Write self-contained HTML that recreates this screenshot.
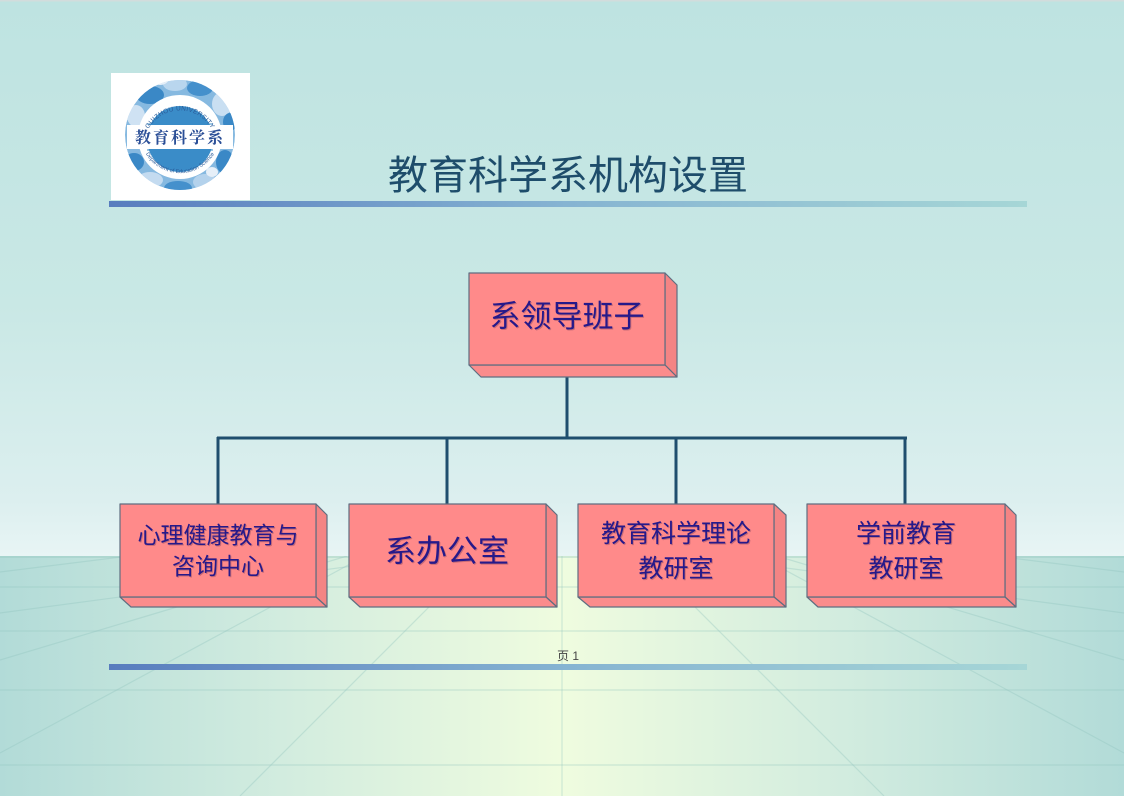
<!DOCTYPE html>
<html><head><meta charset="utf-8">
<style>
html,body{margin:0;padding:0;}
body{width:1124px;height:796px;overflow:hidden;position:relative;font-family:"Liberation Sans","Noto Sans CJK SC",sans-serif;}
svg{position:absolute;left:0;top:0;}
</style></head>
<body>
<svg width="1124" height="796" viewBox="0 0 1124 796" xmlns="http://www.w3.org/2000/svg">
<defs>
  <linearGradient id="sky" x1="0" y1="0" x2="0" y2="1">
    <stop offset="0" stop-color="#bee3e1"/>
    <stop offset="0.55" stop-color="#c9e8e5"/>
    <stop offset="0.9" stop-color="#dcefef"/>
    <stop offset="1" stop-color="#e8f5f5"/>
  </linearGradient>
  <linearGradient id="floor" x1="0" y1="0" x2="1" y2="0">
    <stop offset="0" stop-color="#b2dbd8"/>
    <stop offset="0.25" stop-color="#d2ecdf"/>
    <stop offset="0.5" stop-color="#effcdf"/>
    <stop offset="0.75" stop-color="#d2ecdf"/>
    <stop offset="1" stop-color="#b2dbd8"/>
  </linearGradient>
  <linearGradient id="bar" x1="0" y1="0" x2="1" y2="0">
    <stop offset="0" stop-color="#587cbe"/>
    <stop offset="0.5" stop-color="#86b4d2"/>
    <stop offset="1" stop-color="#a6d6d6"/>
  </linearGradient>
  <clipPath id="floorclip"><rect x="0" y="556" width="1124" height="240"/></clipPath>
  <clipPath id="ringclip"><circle cx="180" cy="135" r="55"/></clipPath>
  <path id="toparc" d="M 145 138 A 36 36 0 0 1 215 138"/>
  <path id="botarc" d="M 141 142 A 40 40 0 0 0 219 142"/>
</defs>

<!-- background -->
<rect x="0" y="0" width="1124" height="556" fill="url(#sky)"/>
<rect x="0" y="556" width="1124" height="240" fill="url(#floor)"/>
<rect x="0" y="0" width="1124" height="1.5" fill="#d2dcdc"/>

<!-- floor grid -->
<g clip-path="url(#floorclip)" stroke="#8fc4bc" stroke-opacity="0.35" stroke-width="1.2" fill="none">
  <line x1="0" y1="557" x2="1124" y2="557" stroke-opacity="0.55"/>
  <line x1="0" y1="587" x2="1124" y2="587"/>
  <line x1="0" y1="631" x2="1124" y2="631"/>
  <line x1="0" y1="690" x2="1124" y2="690"/>
  <line x1="0" y1="765" x2="1124" y2="765"/>
  <line x1="562" y1="556" x2="562" y2="796"/>
  <line x1="0" y1="572" x2="129" y2="556"/>
  <line x1="0" y1="613" x2="428" y2="556"/>
  <line x1="0" y1="660" x2="347" y2="556"/>
  <line x1="0" y1="753" x2="365" y2="556"/>
  <line x1="240" y1="796" x2="480" y2="556"/>
  <line x1="1124" y1="572" x2="995" y2="556"/>
  <line x1="1124" y1="613" x2="696" y2="556"/>
  <line x1="1124" y1="660" x2="777" y2="556"/>
  <line x1="1124" y1="753" x2="759" y2="556"/>
  <line x1="884" y1="796" x2="644" y2="556"/>
</g>

<!-- logo -->
<rect x="111" y="73" width="139" height="127" fill="#ffffff"/>
<g clip-path="url(#ringclip)">
  <circle cx="180" cy="135" r="55" fill="#86b9e0"/>
  <ellipse cx="150" cy="95" rx="14" ry="9" fill="#3a88c6"/>
  <ellipse cx="175" cy="84" rx="12" ry="7" fill="#b9d6ee"/>
  <ellipse cx="200" cy="88" rx="13" ry="8" fill="#4590cc"/>
  <ellipse cx="222" cy="104" rx="10" ry="12" fill="#c9dff2"/>
  <ellipse cx="136" cy="116" rx="9" ry="11" fill="#cfe2f3"/>
  <ellipse cx="230" cy="122" rx="7" ry="9" fill="#3a88c6"/>
  <ellipse cx="134" cy="162" rx="10" ry="9" fill="#3a88c6"/>
  <ellipse cx="150" cy="180" rx="13" ry="8" fill="#c4dbf0"/>
  <ellipse cx="178" cy="188" rx="14" ry="7" fill="#4590cc"/>
  <ellipse cx="205" cy="182" rx="12" ry="8" fill="#b4d2ec"/>
  <ellipse cx="225" cy="162" rx="9" ry="12" fill="#3a88c6"/>
  <ellipse cx="160" cy="80" rx="8" ry="5" fill="#e6eff8"/>
  <ellipse cx="212" cy="172" rx="6" ry="5" fill="#e6eff8"/>
</g>
<circle cx="180" cy="137" r="42" fill="#ffffff"/>
<circle cx="180" cy="139" r="33" fill="#3a8cc8"/>
<rect x="127" y="125" width="106" height="24" fill="#ffffff"/>
<line x1="147" y1="124" x2="213" y2="124" stroke="#3a8cc8" stroke-width="1"/>
<line x1="147" y1="150" x2="213" y2="150" stroke="#3a8cc8" stroke-width="1"/>
<text font-family="'Liberation Sans',sans-serif" font-size="6.5" fill="#2a5c9a" letter-spacing="0.3"><textPath href="#toparc" startOffset="50%" text-anchor="middle">GUIZHOU UNIVERSITY</textPath></text>
<text font-family="'Liberation Sans',sans-serif" font-size="5.5" fill="#2a5c9a"><textPath href="#botarc" startOffset="50%" text-anchor="middle">Department of Education Science</textPath></text>
<text x="180" y="143" text-anchor="middle" font-family="'Liberation Serif','Noto Serif CJK SC',serif" font-weight="bold" font-size="16" fill="#2a4e96" letter-spacing="2">教育科学系</text>

<!-- title -->
<text x="568" y="189" text-anchor="middle" font-family="'Liberation Sans','Noto Sans CJK SC',sans-serif" font-size="40" fill="#1e4d6b">教育科学系机构设置</text>
<rect x="109" y="201" width="918" height="6" fill="url(#bar)"/>

<!-- connectors -->
<g stroke="#1f4e6e" stroke-width="3" fill="none">
  <line x1="567" y1="377" x2="567" y2="438"/>
  <line x1="217" y1="438" x2="907" y2="438"/>
  <line x1="218" y1="437" x2="218" y2="505"/>
  <line x1="447" y1="437" x2="447" y2="505"/>
  <line x1="676" y1="437" x2="676" y2="505"/>
  <line x1="905" y1="437" x2="905" y2="505"/>
</g>

<!-- boxes -->
<g stroke="#5f6e80" stroke-width="1.2" stroke-linejoin="round">
  <polygon points="665,273 677,285 677,377 665,365" fill="#f48484"/>
  <polygon points="469,365 665,365 677,377 481,377" fill="#fb8c8c"/>
  <rect x="469" y="273" width="196" height="92" fill="#ff8a8a"/>
  <polygon points="316,504 327,515 327,607 316,597" fill="#f48484"/>
  <polygon points="120,597 316,597 327,607 131,607" fill="#fb8c8c"/>
  <rect x="120" y="504" width="196" height="93" fill="#ff8a8a"/>
  <polygon points="546,504 557,515 557,607 546,597" fill="#f48484"/>
  <polygon points="349,597 546,597 557,607 360,607" fill="#fb8c8c"/>
  <rect x="349" y="504" width="197" height="93" fill="#ff8a8a"/>
  <polygon points="774,504 786,515 786,607 774,597" fill="#f48484"/>
  <polygon points="578,597 774,597 786,607 590,607" fill="#fb8c8c"/>
  <rect x="578" y="504" width="196" height="93" fill="#ff8a8a"/>
  <polygon points="1005,504 1016,515 1016,607 1005,597" fill="#f48484"/>
  <polygon points="807,597 1005,597 1016,607 818,607" fill="#fb8c8c"/>
  <rect x="807" y="504" width="198" height="93" fill="#ff8a8a"/>
</g>

<!-- box labels -->
<g font-family="'Liberation Sans','Noto Sans CJK SC',sans-serif" fill="#26198a" text-anchor="middle" style="text-shadow:1px 1px 0 rgba(40,20,60,0.25)">
  <text x="567" y="327" font-size="31">系领导班子</text>
  <text x="218" y="543" font-size="23">心理健康教育与</text>
  <text x="218" y="574" font-size="23">咨询中心</text>
  <text x="447" y="562" font-size="31">系办公室</text>
  <text x="676" y="542" font-size="25">教育科学理论</text>
  <text x="676" y="577" font-size="25">教研室</text>
  <text x="906" y="542" font-size="25">学前教育</text>
  <text x="906" y="577" font-size="25">教研室</text>
</g>

<!-- footer -->
<text x="568" y="660" text-anchor="middle" font-family="'Liberation Sans','Noto Sans CJK SC',sans-serif" font-size="12" fill="#444">页 1</text>
<rect x="109" y="664" width="918" height="6" fill="url(#bar)"/>
</svg>
</body></html>
